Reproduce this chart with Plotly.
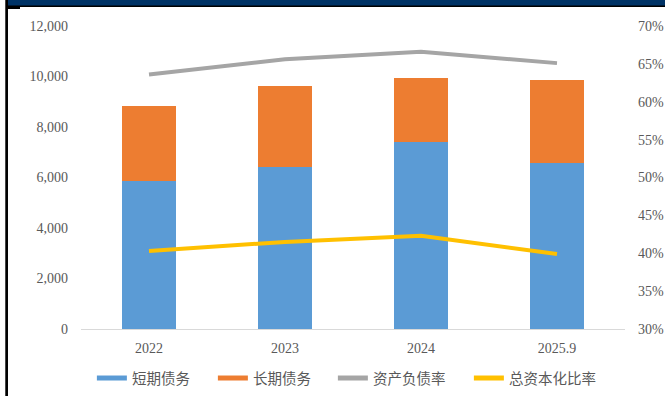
import plotly.graph_objects as go

# Debt structure by period (left axis, stacked) and leverage ratios (right axis)
periods = ["2022", "2023", "2024", "2025.9"]
short_term_debt = [5860, 6420, 7400, 6570]
long_term_debt = [2970, 3200, 2550, 3280]
debt_to_asset = [0.636, 0.656, 0.666, 0.651]
total_cap_ratio = [0.403, 0.415, 0.423, 0.399]

names = ["短期债务", "长期债务", "资产负债率", "总资本化比率"]
colors = ["#5B9BD5", "#ED7D31", "#A5A5A5", "#FFC000"]
legend_widths = [76, 75, 91, 90]

tick_font = dict(family="Liberation Serif, Times New Roman, serif", size=14, color="#595959")

fig = go.Figure()

fig.add_trace(go.Bar(x=periods, y=short_term_debt, name=names[0],
                     marker=dict(color=colors[0], line=dict(width=0)),
                     showlegend=False, yaxis="y"))
fig.add_trace(go.Bar(x=periods, y=long_term_debt, name=names[1],
                     marker=dict(color=colors[1], line=dict(width=0)),
                     showlegend=False, yaxis="y"))
fig.add_trace(go.Scatter(x=periods, y=debt_to_asset, name=names[2], mode="lines",
                         line=dict(color=colors[2], width=4), showlegend=False, yaxis="y2"))
fig.add_trace(go.Scatter(x=periods, y=total_cap_ratio, name=names[3], mode="lines",
                         line=dict(color=colors[3], width=4), showlegend=False, yaxis="y2"))

# Legend entries drawn as line swatches for every series
for nm, col, lw in zip(names, colors, legend_widths):
    fig.add_trace(go.Scatter(x=[None], y=[None], name=nm, mode="lines",
                             line=dict(color=col, width=5), legendwidth=lw, yaxis="y2"))

# Page frame: dark band across the top and a rule down the left side
frame_shapes = [
    dict(type="rect", xref="paper", yref="paper", x0=-0.137, x1=1.1, y0=1.066, y1=1.1,
         fillcolor="#003366", line=dict(width=0), layer="above"),
    dict(type="rect", xref="paper", yref="paper", x0=-0.137, x1=1.1, y0=1.0627, y1=1.0677,
         fillcolor="#000000", line=dict(width=0), layer="above"),
    dict(type="rect", xref="paper", yref="paper", x0=-0.1392, x1=-0.1342, y0=-0.23, y1=1.1,
         fillcolor="#000000", line=dict(width=0), layer="above"),
    dict(type="rect", xref="paper", yref="paper", x0=-0.1342, x1=-0.1121, y0=1.0561, y1=1.0627,
         fillcolor="#000000", line=dict(width=0), layer="above"),
]

fig.update_layout(
    width=665, height=396,
    margin=dict(l=81, r=40, t=26, b=67, autoexpand=False),
    paper_bgcolor="white", plot_bgcolor="white",
    barmode="stack", bargap=0.6,
    xaxis=dict(showgrid=False, showline=True, linecolor="#D9D9D9", linewidth=1,
               ticks="", tickfont=tick_font, ticklabelstandoff=6, zeroline=False),
    yaxis=dict(range=[0, 12000], dtick=2000, tickformat=",", showgrid=False,
               zeroline=False, showline=False, tickfont=tick_font, ticklabelstandoff=12),
    yaxis2=dict(range=[0.3, 0.7], dtick=0.05, tickformat=".0%", overlaying="y",
                side="right", showgrid=False, zeroline=False, showline=False,
                tickfont=tick_font, ticklabelstandoff=12),
    legend=dict(orientation="h", traceorder="normal", x=0.02, xanchor="left",
                y=-0.162, yanchor="middle",
                font=dict(family="Noto Sans CJK SC, sans-serif", size=14.5, color="#595959"),
                itemwidth=30, tracegroupgap=0, bgcolor="rgba(0,0,0,0)"),
    shapes=frame_shapes,
)

fig.write_html("out.html")
